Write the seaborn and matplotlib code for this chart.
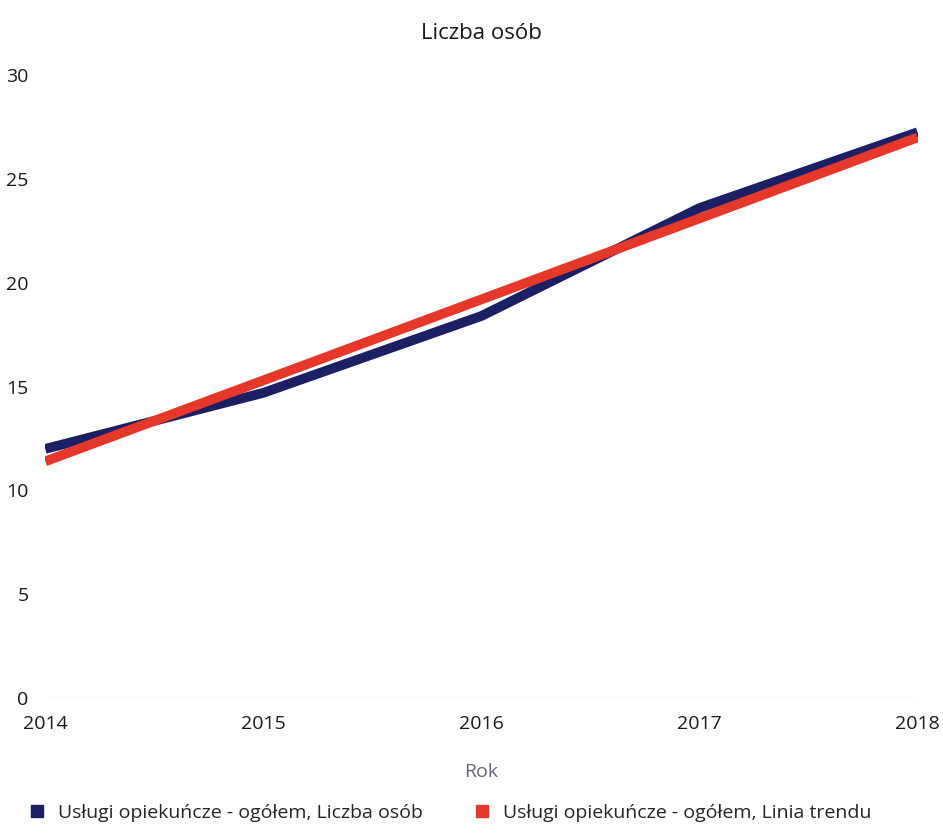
import pandas as pd
import matplotlib.pyplot as plt
import seaborn as sns
from matplotlib.lines import Line2D

sns.set_theme(style="white")
plt.rcParams['font.family'] = ['Open Sans', 'DejaVu Sans']

# dane
years = [2014, 2015, 2016, 2017, 2018]
liczba_osob = [12.0, 14.7, 18.4, 23.6, 27.25]
linia_trendu = [11.4, 15.3, 19.2, 23.1, 27.0]
series_names = ['Usługi opiekuńcze - ogółem, Liczba osób',
                'Usługi opiekuńcze - ogółem, Linia trendu']
colors = ['#1c1f63', '#e5372a']

df = pd.DataFrame({
    'Rok': years * 2,
    'value': liczba_osob + linia_trendu,
    'seria': [series_names[0]] * len(years) + [series_names[1]] * len(years),
})

fig = plt.figure(figsize=(9.43, 8.35), dpi=100)
ax = fig.add_axes([0.048, 0.164, 0.925, 0.746])

sns.lineplot(data=df, x='Rok', y='value', hue='seria', palette=colors,
             linewidth=7, legend=False, ax=ax, solid_capstyle='butt')

ax.set_xlim(2014, 2018)
ax.set_ylim(0, 30)
ax.set_xticks(years)
ax.set_yticks([0, 5, 10, 15, 20, 25, 30])
ax.tick_params(axis='both', labelsize=14, colors='#1a1a1a', length=0)
ax.tick_params(axis='y', pad=12)
ax.tick_params(axis='x', pad=12)
for s in ax.spines.values():
    s.set_visible(False)
ax.axhline(0, color='#dddddd', lw=1, zorder=0)

ax.set_ylabel('')
ax.set_xlabel('Rok', fontsize=14, color='#666677', labelpad=22)
ax.set_title('Liczba osób', fontsize=16, color='#1a1a1a', pad=26)

handles = [Line2D([], [], marker='s', linestyle='', markersize=8, color=c)
           for c in colors]
fig.legend(handles, series_names, loc='lower left', ncol=2, frameon=False,
           fontsize=14, bbox_to_anchor=(0.0, -0.005), handletextpad=0.1,
           columnspacing=2.0)

plt.savefig('out.png', dpi=100)
